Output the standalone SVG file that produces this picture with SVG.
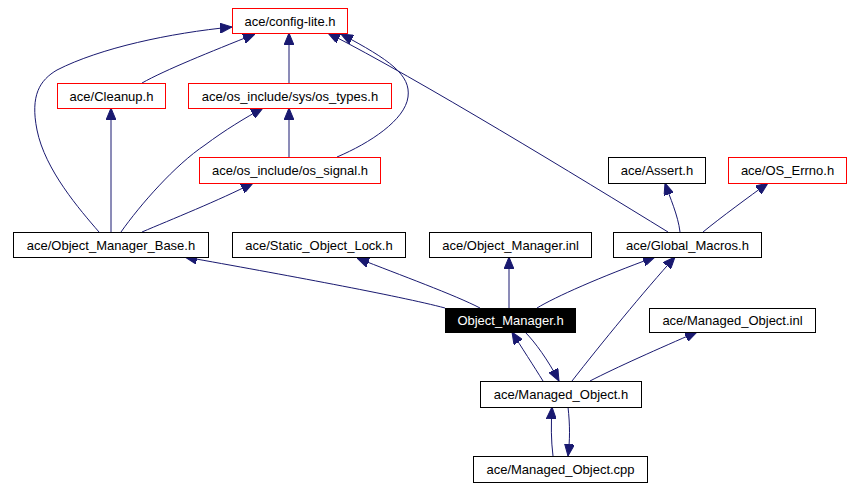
<svg xmlns="http://www.w3.org/2000/svg" width="852" height="488" viewBox="0 0 852 488">
<style>
.n rect{fill:#fff;stroke:#000;stroke-width:1}
.r rect{stroke:#f00}
.cur rect{fill:#000}
.n text{font-family:"Liberation Sans",Arial,sans-serif;font-size:13px;fill:#000;text-anchor:middle}
.cur text{fill:#fff}
.e path{fill:none;stroke:#191970;stroke-width:1;marker-end:url(#ah)}
</style>
<defs>
<marker id="ah" viewBox="0 0 12 10" refX="12" refY="5" markerWidth="12" markerHeight="10" markerUnits="userSpaceOnUse" orient="auto">
<path d="M0,0 L12,5 L0,10 z" fill="#191970" stroke="#191970"/>
</marker>
</defs>
<rect width="852" height="488" fill="#fff"/>
<g class="e" id="edges">
<path d="M142,83 C165,70 210,52 255,34"/>
<path d="M289,83 L289,33"/>
<path d="M99,232 C80,210 45,170 37,130 C30,95 40,80 57,70 C100,48 170,33 232,27"/>
<path d="M111,232 L111,108"/>
<path d="M121,232 C140,205 175,165 205,145 C225,130 245,118 263,108"/>
<path d="M142,232 C170,220 220,200 253,183"/>
<path d="M289,157 L289,108"/>
<path d="M337,157 C370,143 405,120 408,97 C411,75 390,60 341,34"/>
<path d="M668,232 C580,178 420,80 328,33"/>
<path d="M680,232 C678,215 670,198 665,183"/>
<path d="M703,232 C720,218 750,196 768,183"/>
<path d="M445,308 C400,296 280,274 185,257"/>
<path d="M480,308 C455,295 400,275 357,258"/>
<path d="M509,308 L509,257"/>
<path d="M537,308 C555,297 600,277 655,257"/>
<path d="M543,381 C535,368 520,345 512,332"/>
<path d="M525,332 C535,342 548,360 559,381"/>
<path d="M572,381 C600,345 645,290 675,257"/>
<path d="M590,381 C615,368 660,348 697,332"/>
<path d="M553,456 C551,440 551,425 552,407"/>
<path d="M568,407 C570,425 570,440 568,456"/>
</g>
<g class="n r" id="config-lite"><rect x="232.5" y="8.5" width="115" height="25"/><text x="290" y="25.5">ace/config-lite.h</text></g>
<g class="n r" id="cleanup"><rect x="57.5" y="83.5" width="108" height="25"/><text x="111.5" y="100.5">ace/Cleanup.h</text></g>
<g class="n r" id="os-types"><rect x="188.5" y="83.5" width="203" height="25"/><text x="290" y="100.5">ace/os_include/sys/os_types.h</text></g>
<g class="n r" id="os-signal"><rect x="199.5" y="157.5" width="181" height="26"/><text x="290" y="175">ace/os_include/os_signal.h</text></g>
<g class="n" id="assert"><rect x="608.5" y="157.5" width="97" height="26"/><text x="657" y="175">ace/Assert.h</text></g>
<g class="n r" id="os-errno"><rect x="728.5" y="157.5" width="118" height="26"/><text x="787.5" y="175">ace/OS_Errno.h</text></g>
<g class="n" id="om-base"><rect x="13.5" y="232.5" width="195" height="25"/><text x="111" y="249.5">ace/Object_Manager_Base.h</text></g>
<g class="n" id="static-lock"><rect x="232.5" y="232.5" width="173" height="25"/><text x="319" y="249.5">ace/Static_Object_Lock.h</text></g>
<g class="n" id="om-inl"><rect x="429.5" y="232.5" width="162" height="25"/><text x="510.5" y="249.5">ace/Object_Manager.inl</text></g>
<g class="n" id="global-macros"><rect x="613.5" y="232.5" width="148" height="25"/><text x="687.5" y="249.5">ace/Global_Macros.h</text></g>
<g class="n cur" id="om-h"><rect x="445.5" y="308.5" width="130" height="24"/><text x="510.5" y="325">Object_Manager.h</text></g>
<g class="n" id="mo-inl"><rect x="649.5" y="308.5" width="166" height="24"/><text x="732.5" y="325">ace/Managed_Object.inl</text></g>
<g class="n" id="mo-h"><rect x="480.5" y="381.5" width="161" height="26"/><text x="561" y="399">ace/Managed_Object.h</text></g>
<g class="n" id="mo-cpp"><rect x="473.5" y="456.5" width="174" height="26"/><text x="560.5" y="474">ace/Managed_Object.cpp</text></g>
</svg>
